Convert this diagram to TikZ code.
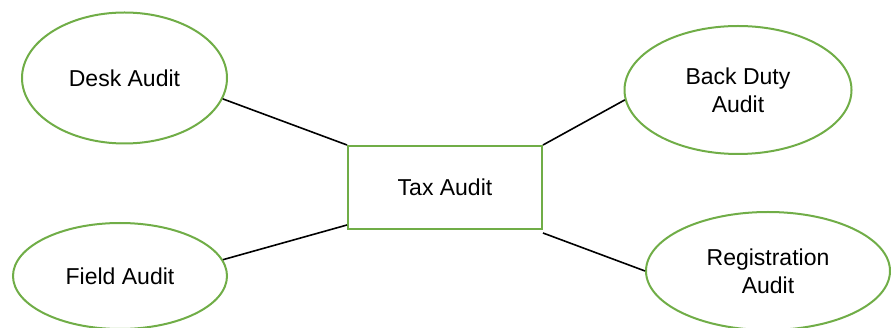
\documentclass[tikz,border=0pt]{standalone}
\usepackage{fontspec}
\setmainfont{Liberation Sans}
\usetikzlibrary{shapes.geometric}
\definecolor{lgreen}{HTML}{70AD47}
\begin{document}
\begin{tikzpicture}[x=1pt,y=-1pt,
  oval/.style={ellipse, draw=lgreen, line width=2pt, inner sep=0pt, align=center,
    font=\fontsize{23}{28}\selectfont},
  box/.style={rectangle, draw=lgreen, line width=2pt, inner sep=0pt,
    minimum width=194pt, minimum height=83pt, font=\fontsize{23}{28}\selectfont},
  link/.style={line width=1.6pt, draw=black}]
\useasboundingbox (0,0) rectangle (891,328);
\clip (0,0) rectangle (891,328);
\node[box] (tax) at (445,187.5) {Tax Audit};
\node[oval, minimum width=205pt, minimum height=131pt] (desk) at (124.5,78) {Desk Audit};
\node[oval, minimum width=214pt, minimum height=106pt] (field) at (120,276) {Field Audit};
\node[oval, minimum width=227pt, minimum height=128pt] (back) at (738,90) {Back Duty\\Audit};
\node[oval, minimum width=244pt, minimum height=118pt] (reg) at (768,271) {Registration\\Audit};
\draw[link] (desk.-12) -- (tax.north west);
\draw[link] ([yshift=5pt]tax.south west) -- (field.9);
\draw[link] (tax.north east) -- (back.185);
\draw[link] ([yshift=-3pt]tax.south east) -- (reg.180);
\end{tikzpicture}
\end{document}
